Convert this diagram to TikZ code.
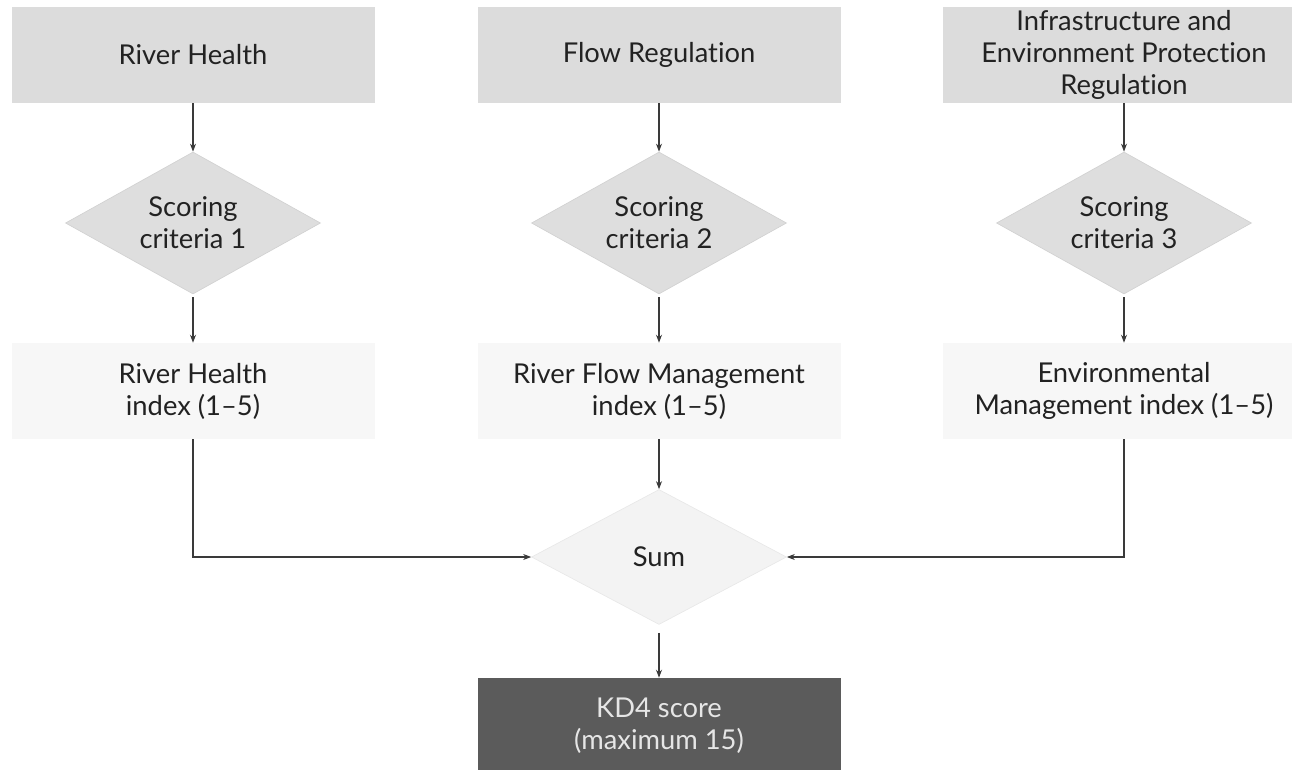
\documentclass[tikz,border=0pt]{standalone}
\usepackage{fontspec}
\setmainfont{Lato}[RawFeature=-liga, RawFeature=-clig, RawFeature=-dlig]
\usetikzlibrary{shapes.geometric,arrows.meta}
\definecolor{srcfill}{HTML}{DCDCDC}
\definecolor{critfill}{HTML}{DEDEDE}
\definecolor{critedge}{HTML}{D2D2D2}
\definecolor{idxfill}{HTML}{F7F7F7}
\definecolor{sumfill}{HTML}{F3F3F3}
\definecolor{sumedge}{HTML}{E8E8E8}
\definecolor{resfill}{HTML}{5B5B5B}
\definecolor{restext}{HTML}{E6E6E6}
\definecolor{txt}{HTML}{222222}
\definecolor{linecol}{HTML}{3A3A3A}
\begin{document}
\begin{tikzpicture}[x=0.75pt,y=-0.75pt,
  every node/.style={font=\fontsize{20.5}{24}\selectfont, text=txt, align=center},
  srcbox/.style={rectangle, fill=srcfill, minimum width=272.25pt, minimum height=72pt, inner sep=0pt},
  idxbox/.style={rectangle, fill=idxfill, minimum width=272.25pt, minimum height=72pt, inner sep=0pt},
  crit/.style={diamond, fill=critfill, draw=critedge, line width=0.5pt, aspect=1.8,
    minimum width=191.25pt, minimum height=106.5pt, inner sep=0pt},
  sumnode/.style={diamond, fill=sumfill, draw=sumedge, line width=0.5pt, aspect=1.89,
    minimum width=191.25pt, minimum height=101.25pt, inner sep=0pt},
  result/.style={rectangle, fill=resfill, text=restext, minimum width=272.25pt, minimum height=72pt, inner sep=0pt},
  link/.style={draw=linecol, line width=0.8pt, -{Stealth[length=6pt,width=4.5pt]}}
]
\useasboundingbox (0,0) rectangle (1292,770);

% source topics
\node[srcbox] (s1) at (193,55) {River Health};
\node[srcbox] (s2) at (659,55) {Flow Regulation};
\node[srcbox] (s3) at (1124,55) {Infrastructure and\\Environment Protection\\Regulation};

% scoring criteria
\node[crit] (c1) at (193,223) {Scoring\\criteria 1};
\node[crit] (c2) at (659,223) {Scoring\\criteria 2};
\node[crit] (c3) at (1124,223) {Scoring\\criteria 3};

% indices
\node[idxbox] (i1) at (193,391) {River Health\\index (1–5)};
\node[idxbox] (i2) at (659,391) {River Flow Management\\index (1–5)};
\node[idxbox] (i3) at (1124,391) {Environmental\\Management index (1–5)};

% aggregation and result
\node[sumnode] (sum) at (659,557) {Sum};
\node[result] (res) at (659,726) {KD4 score\\(maximum 15)};

% connectors
\foreach \k in {1,2,3}{
  \draw[link] (s\k.south) -- (c\k.north);
  \draw[link] ([yshift=-2pt]c\k.south) -- (i\k.north);
}
\draw[link] (i2.south) -- (sum.north);
\draw[link] (i1.south) |- (sum.west);
\draw[link] (i3.south) |- (sum.east);
\draw[link] ([yshift=-6pt]sum.south) -- (res.north);
\end{tikzpicture}
\end{document}
